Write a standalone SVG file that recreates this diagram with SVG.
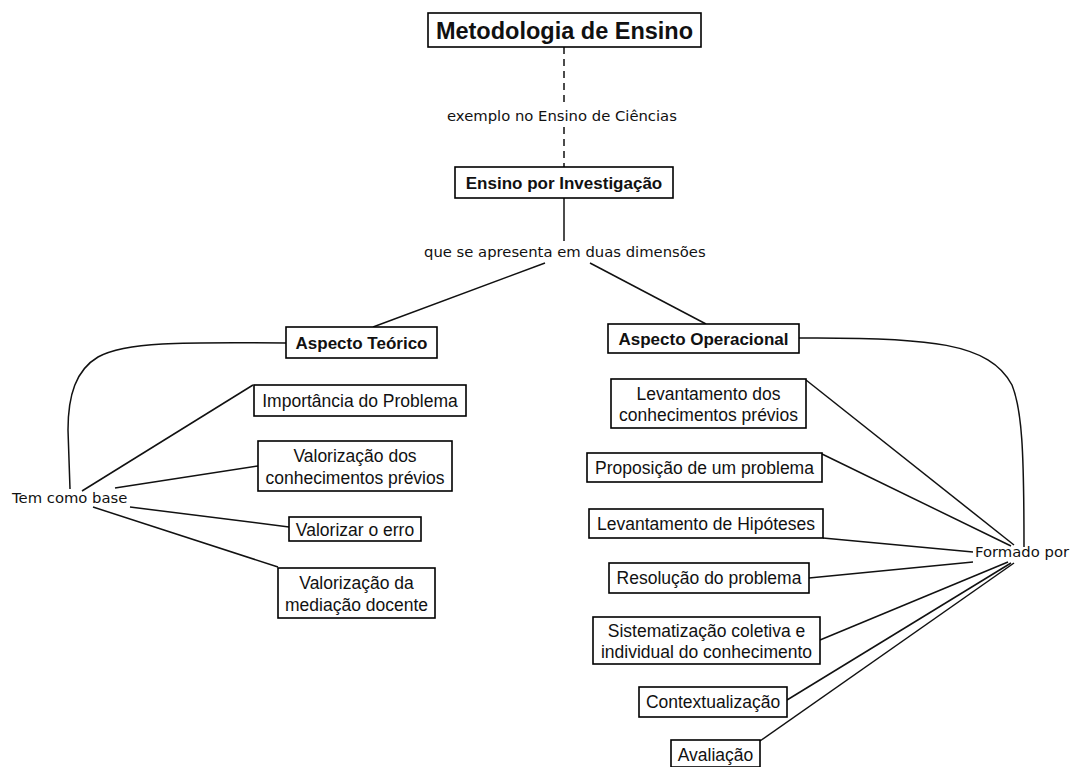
<svg xmlns="http://www.w3.org/2000/svg" width="1071" height="767" viewBox="0 0 1071 767">
  <style>
    .box { fill: #ffffff; stroke: #000000; stroke-width: 1.6; }
    .node { font-family: "Liberation Sans", Arial, sans-serif; font-size: 17.5px; fill: #111111; text-anchor: middle; }
    .bold { font-weight: bold; font-size: 17px; }
    .title { font-weight: bold; font-size: 23.5px; }
    .link { font-family: "DejaVu Sans", Verdana, sans-serif; font-size: 14.8px; fill: #111111; }
    .edge { fill: none; stroke: #111111; stroke-width: 1.5; }
    .dash { stroke-dasharray: 7 5; }
  </style>
  <rect width="1071" height="767" fill="#ffffff"/>

  <!-- connectors -->
  <g id="connectors">
    <path class="edge dash" d="M564,47 V104"/>
    <path class="edge dash" d="M564,127 V167"/>
    <path class="edge" d="M564,198 V241"/>
    <path class="edge" d="M545,263 L373,327"/>
    <path class="edge" d="M590,263 L706,324"/>
    <!-- Aspecto Teórico -> Tem como base -->
    <path class="edge" d="M286,343 C180,342 125,342 98,357 C76,370 68,395 68,430 L70,489"/>
    <path class="edge" d="M82,491 L253,385"/>
    <path class="edge" d="M115,488 L258,466"/>
    <path class="edge" d="M130,507 L289,527"/>
    <path class="edge" d="M93,507 L278,567"/>
    <!-- Aspecto Operacional -> Formado por -->
    <path class="edge" d="M799,338 C930,337 990,343 1012,385 C1022,410 1024,450 1024,547"/>
    <path class="edge" d="M806,380 L1014,545"/>
    <path class="edge" d="M822,454 L1011,546"/>
    <path class="edge" d="M823,538 L973,552"/>
    <path class="edge" d="M809,578 L973,562"/>
    <path class="edge" d="M820,640 L1008,562"/>
    <path class="edge" d="M787,700 L1011,563"/>
    <path class="edge" d="M760,741 L1014,563"/>
  </g>

  <!-- link labels -->
  <g id="link-labels">
    <text class="link" x="447" y="121">exemplo no Ensino de Ciências</text>
    <text class="link" x="424" y="257">que se apresenta em duas dimensões</text>
    <text class="link" x="12" y="503">Tem como base</text>
    <text class="link" x="975" y="557">Formado por</text>
  </g>

  <g id="metodologia">
    <rect class="box" x="428" y="13" width="273" height="34"/>
    <text class="node title" x="564.5" y="38.5">Metodologia de Ensino</text>
  </g>
  <g id="ensino-investigacao">
    <rect class="box" x="455" y="167" width="218" height="31"/>
    <text class="node bold" x="564" y="188.5">Ensino por Investigação</text>
  </g>
  <g id="aspecto-teorico">
    <rect class="box" x="286" y="327" width="151" height="31"/>
    <text class="node bold" x="361.5" y="348.5">Aspecto Teórico</text>
  </g>
  <g id="aspecto-operacional">
    <rect class="box" x="608" y="324" width="191" height="29"/>
    <text class="node bold" x="703.5" y="344.5">Aspecto Operacional</text>
  </g>

  <g id="importancia-problema">
    <rect class="box" x="254" y="385" width="212" height="31"/>
    <text class="node" x="360" y="407">Importância do Problema</text>
  </g>
  <g id="valorizacao-conhecimentos">
    <rect class="box" x="258" y="441" width="194" height="50"/>
    <text class="node" x="355" y="462">Valorização dos</text>
    <text class="node" x="355" y="484">conhecimentos prévios</text>
  </g>
  <g id="valorizar-erro">
    <rect class="box" x="289" y="517" width="132" height="24"/>
    <text class="node" x="355" y="535.5">Valorizar o erro</text>
  </g>
  <g id="valorizacao-mediacao">
    <rect class="box" x="278" y="568" width="157" height="50"/>
    <text class="node" x="356.5" y="589">Valorização da</text>
    <text class="node" x="356.5" y="611">mediação docente</text>
  </g>

  <g id="levantamento-conhecimentos">
    <rect class="box" x="611" y="379" width="195" height="49"/>
    <text class="node" x="708.5" y="399.5">Levantamento dos</text>
    <text class="node" x="708.5" y="421">conhecimentos prévios</text>
  </g>
  <g id="proposicao-problema">
    <rect class="box" x="587" y="453" width="235" height="29"/>
    <text class="node" x="704.5" y="473.5">Proposição de um problema</text>
  </g>
  <g id="levantamento-hipoteses">
    <rect class="box" x="589" y="509" width="234" height="29"/>
    <text class="node" x="706" y="529.5">Levantamento de Hipóteses</text>
  </g>
  <g id="resolucao-problema">
    <rect class="box" x="609" y="563" width="200" height="30"/>
    <text class="node" x="709" y="584">Resolução do problema</text>
  </g>
  <g id="sistematizacao">
    <rect class="box" x="593" y="617" width="227" height="47"/>
    <text class="node" x="706.5" y="637">Sistematização coletiva e</text>
    <text class="node" x="706.5" y="658">individual do conhecimento</text>
  </g>
  <g id="contextualizacao">
    <rect class="box" x="639" y="687" width="148" height="30"/>
    <text class="node" x="713" y="708">Contextualização</text>
  </g>
  <g id="avaliacao">
    <rect class="box" x="671" y="740" width="89" height="27"/>
    <text class="node" x="715.5" y="761">Avaliação</text>
  </g>
</svg>
